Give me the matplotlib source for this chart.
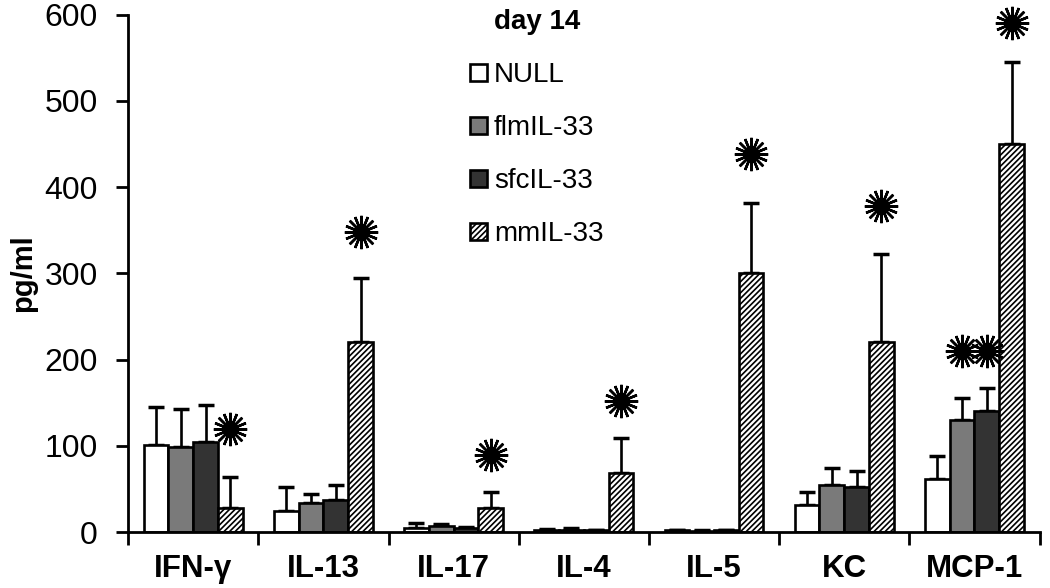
import numpy as np
import matplotlib.pyplot as plt
from matplotlib.patches import Patch

plt.rcParams['font.family'] = ['Liberation Sans', 'DejaVu Sans']
plt.rcParams['hatch.linewidth'] = 1.2

# Data (pg/ml, day 14)
categories = ['IFN-γ', 'IL-13', 'IL-17', 'IL-4', 'IL-5', 'KC', 'MCP-1']
groups = ['NULL', 'flmIL-33', 'sfcIL-33', 'mmIL-33']
null_vals = [101, 25, 5, 2, 2, 31, 62]
flm_vals = [99, 34, 7, 3, 1, 55, 130]
sfc_vals = [104, 37, 5, 2, 2, 52, 141]
mm_vals = [28, 220, 28, 68, 300, 221, 450]
null_err = [44, 27, 6, 2, 1, 16, 26]
flm_err = [44, 10, 2, 2, 1, 19, 26]
sfc_err = [43, 18, 1, 1, 1, 19, 26]
mm_err = [36, 75, 18, 41, 82, 101, 95]
# significance stars: (category index, group index, y)
stars = [(0, 3, 120), (1, 3, 348), (2, 3, 90), (3, 3, 152), (4, 3, 438),
         (5, 3, 378), (6, 1, 210), (6, 2, 210), (6, 3, 590)]

values = [null_vals, flm_vals, sfc_vals, mm_vals]
errors = [null_err, flm_err, sfc_err, mm_err]
faces = ['white', '#7a7a7a', '#333333', 'white']
hatches = [None, None, None, '//////']

fig = plt.figure(figsize=(10.5, 5.88), dpi=100)
ax = fig.add_axes([0.122, 0.095, 0.868, 0.88])

x = np.arange(len(categories))
w = 0.19
offsets = (np.arange(4) - 1.5) * w
handles = []
for i in range(4):
    ax.bar(x + offsets[i], values[i], w, color=faces[i], edgecolor='black',
           linewidth=1.9, hatch=hatches[i], zorder=2)
    ax.errorbar(x + offsets[i], values[i], yerr=[np.zeros(len(x)), errors[i]],
                fmt='none', ecolor='black', elinewidth=1.9, capsize=6,
                capthick=2.5, zorder=1)
    handles.append(Patch(facecolor=faces[i], edgecolor='black', linewidth=1.9,
                         hatch=hatches[i], label=groups[i]))

for ci, gi, yv in stars:
    ax.plot(x[ci] + offsets[gi], yv, marker=(16, 2, 0), markersize=24,
            markeredgewidth=1.8, color='black', linestyle='none', zorder=3,
            clip_on=False)
    ax.plot(x[ci] + offsets[gi], yv, marker='o', markersize=6,
            color='black', linestyle='none', zorder=3, clip_on=False)

ax.set_xlim(-0.5, len(categories) - 0.5)
ax.set_ylim(0, 600)
ax.set_yticks(range(0, 601, 100))
ax.set_xticks(np.arange(-0.5, len(categories)), [''] * (len(categories) + 1))
ax.set_xticks(x, categories, minor=True)
ax.tick_params(axis='x', which='minor', length=0, pad=16, labelsize=22.5)
for lab in ax.get_xticklabels(minor=True):
    lab.set_fontweight('bold')
ax.tick_params(axis='x', which='major', length=9, width=2, direction='out')
ax.tick_params(axis='y', length=9, width=2, labelsize=23, pad=13)
ax.set_ylabel('pg/ml', fontsize=21, fontweight='bold', labelpad=5)
for s in ['top', 'right']:
    ax.spines[s].set_visible(False)
for s in ['left', 'bottom']:
    ax.spines[s].set_linewidth(2)

leg = ax.legend(handles=handles, title='day 14', loc='upper left',
                bbox_to_anchor=(0.36, 1.037), frameon=False, fontsize=20,
                title_fontproperties={'weight': 'bold', 'size': 20},
                handlelength=0.6, handleheight=0.6, handletextpad=0.25,
                labelspacing=0.97, borderpad=0)

fig.savefig('out.png', dpi=100)
